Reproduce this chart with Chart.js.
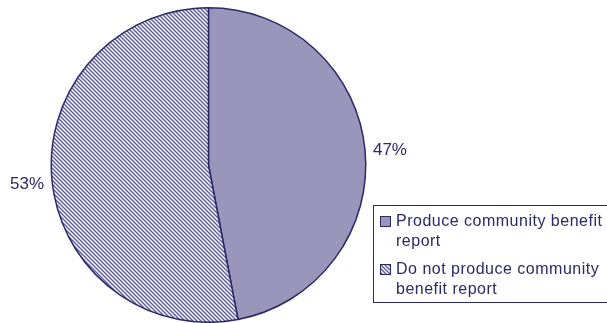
<!DOCTYPE html>
<html>
<head>
<meta charset="utf-8">
<script src="https://cdn.jsdelivr.net/npm/chart.js@4"></script>
<style>
  body { margin: 0; background: #fff; }
  #wrap { position: relative; width: 607px; height: 323px; overflow: hidden; }
  #legend {
    position: absolute; left: 373px; top: 205px; width: 250px; height: 98px;
    border: 1px solid #2b2868; box-sizing: border-box;
    font-family: "Liberation Sans", Arial, sans-serif; font-size: 16px;
    color: #2b2868; line-height: 20px; letter-spacing: 0.5px;
  }
  .item { position: relative; padding-left: 22px; margin-top: 5px; }
  .item + .item { margin-top: 8px; }
  .box { position: absolute; left: 6px; top: 5px; width: 9px; height: 9px; border: 1px solid #2b2868; }
</style>
</head>
<body>
<div id="wrap">
  <canvas id="myChart" width="607" height="323"></canvas>
  <div id="legend"></div>
</div>
<script>
// データ
const labels = ['Produce community benefit report', 'Do not produce community benefit report'];
const values = [47, 53];
const pctLabels = ['47%', '53%'];

const navy = '#2b2868';
const solidFill = '#9a95bb';

// 斜線パターン
function makeHatch(){
    const c = document.createElement('canvas');
    c.width = 4; c.height = 4;
    const g = c.getContext('2d');
    g.fillStyle = '#fff';
    g.fillRect(0, 0, 4, 4);
    g.strokeStyle = '#615da2';
    g.lineWidth = 1.5;
    g.beginPath();
    g.moveTo(-1, -1); g.lineTo(5, 5);
    g.moveTo(-1, 3); g.lineTo(1, 5);
    g.moveTo(3, -1); g.lineTo(5, 1);
    g.stroke();
    return c;
}
const hatchCanvas = makeHatch();
const ctx = document.getElementById('myChart').getContext('2d');
const hatch = ctx.createPattern(hatchCanvas, 'repeat');

// パーセント表示
const pctPlugin = {
    id: 'pct',
    afterDatasetsDraw(chart){
        const c = chart.ctx;
        const arcs = chart.getDatasetMeta(0).data;
        c.save();
        c.font = '17px "Liberation Sans", Arial, sans-serif';
        c.fillStyle = navy;
        c.textAlign = 'center';
        c.textBaseline = 'middle';
        arcs.forEach((arc, i) => {
            const mid = (arc.startAngle + arc.endAngle) / 2;
            const r = arc.outerRadius + 25;
            c.fillText(pctLabels[i], arc.x + Math.cos(mid) * r, arc.y + Math.sin(mid) * r + 2);
        });
        c.restore();
    }
};

const myChart = new Chart(ctx, {
    type: 'pie',
    data: {
        labels: labels,
        datasets: [{
            data: values,
            backgroundColor: [solidFill, hatch],
            borderColor: navy,
            borderWidth: 1.5
        }]
    },
    options: {
        responsive: false,
        animation: false,
        layout: { padding: { left: 49, right: 239, top: 7, bottom: -1 } },
        plugins: {
            legend: { display: false },
            tooltip: { enabled: false }
        }
    },
    plugins: [pctPlugin]
});

// 凡例
const legendEl = document.getElementById('legend');
const legendTexts = ['Produce community benefit<br>report', 'Do not produce community<br>benefit report'];
legendTexts.forEach((t, i) => {
    const d = document.createElement('div');
    d.className = 'item';
    const b = document.createElement('span');
    b.className = 'box';
    if (i === 0) b.style.background = solidFill;
    else b.style.backgroundImage = 'url(' + hatchCanvas.toDataURL() + ')';
    d.appendChild(b);
    d.insertAdjacentHTML('beforeend', t);
    legendEl.appendChild(d);
});
</script>
</body>
</html>
